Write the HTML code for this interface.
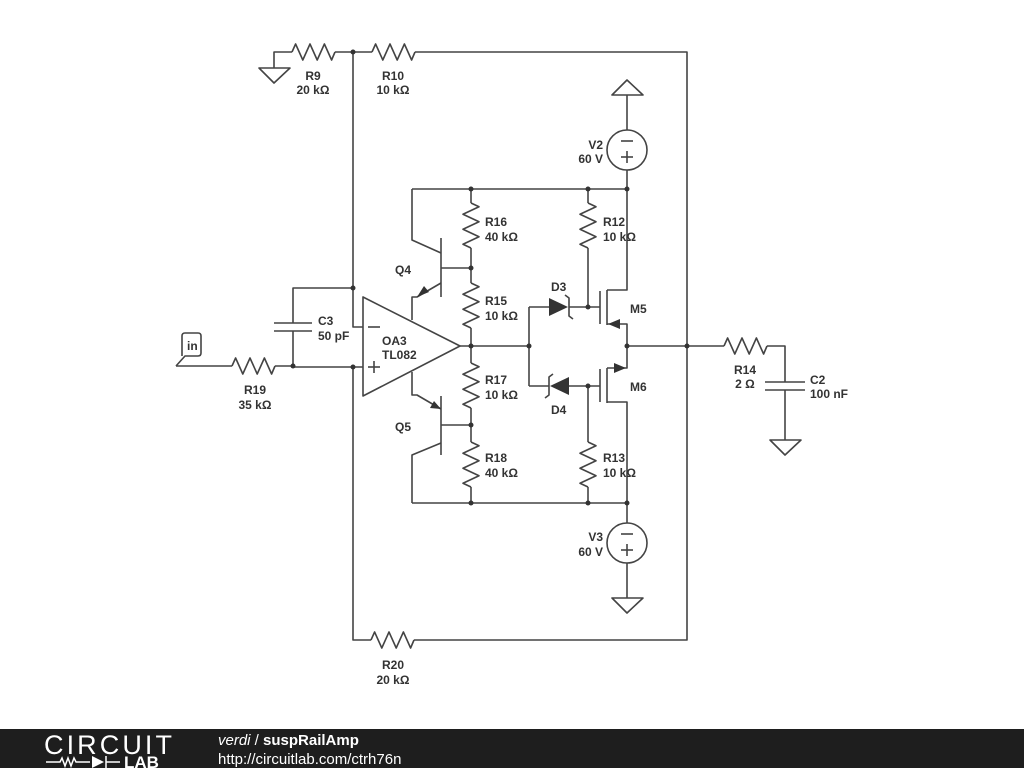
<!DOCTYPE html>
<html><head><meta charset="utf-8"><style>
html,body{margin:0;padding:0;background:#fff;width:1024px;height:768px;overflow:hidden}
svg{display:block}
text{font-family:"Liberation Sans",sans-serif;font-weight:bold;font-size:12px;fill:#333}
</style></head><body>
<svg width="1024" height="768" viewBox="0 0 1024 768">
<defs>
<path id="rv" d="M0,0 L8,3.75 L-8,11.25 L8,18.75 L-8,26.25 L8,33.75 L-8,41.25 L0,45" fill="none"/>
<path id="rh" d="M0,0 L3.6,-8 L10.8,8 L18,-8 L25.2,8 L32.4,-8 L39.6,8 L43,0" fill="none"/>
</defs>
<g fill="none" stroke="#444" stroke-width="1.6" stroke-linejoin="round">
<polyline points="274,68 274,52 292,52"/>
<polygon points="259,68 290,68 274,83"/>
<use href="#rh" x="292" y="52"/>
<line x1="335" y1="52" x2="372" y2="52"/>
<use href="#rh" x="372" y="52"/>
<polyline points="415,52 687,52 687,640 414,640"/>
<use href="#rh" x="371" y="640"/>
<polyline points="371,640 353,640 353,367 363,367"/>
<polyline points="353,52 353,327 363,327"/>
<polyline points="353,288 293,288 293,323"/>
<line x1="274" y1="323" x2="312" y2="323"/>
<line x1="274" y1="331" x2="312" y2="331"/>
<polyline points="293,331 293,367 353,367"/>
<polyline points="176,366 232,366"/>
<use href="#rh" x="232" y="366"/>
<line x1="275" y1="366" x2="293" y2="366"/>
<path d="M176,366 L185,356 L198,356 Q201,356 201,353 L201,336 Q201,333 198,333 L185,333 Q182,333 182,336 L182,356"/>
<polygon points="363,297 363,396 460,346"/>
<line x1="368" y1="327" x2="380" y2="327"/>
<line x1="368" y1="367" x2="380" y2="367"/>
<line x1="374" y1="361" x2="374" y2="373"/>
<line x1="460" y1="346" x2="529" y2="346"/>
<polyline points="412,189 627,189"/>
<polyline points="412,189 412,240 441,253"/>
<line x1="441" y1="238" x2="441" y2="297"/>
<line x1="441" y1="268" x2="471" y2="268"/>
<polyline points="441,283 417,297 412,297 412,320"/>
<polyline points="412,503 627,503"/>
<polyline points="412,503 412,455 441,443"/>
<line x1="441" y1="396" x2="441" y2="455"/>
<line x1="441" y1="425" x2="471" y2="425"/>
<polyline points="412,372 412,395 417,395 441,409"/>
<line x1="471" y1="189" x2="471" y2="203"/>
<use href="#rv" x="471" y="203"/>
<line x1="471" y1="248" x2="471" y2="283"/>
<use href="#rv" x="471" y="283"/>
<line x1="471" y1="328" x2="471" y2="363"/>
<use href="#rv" x="471" y="363"/>
<line x1="471" y1="408" x2="471" y2="442"/>
<use href="#rv" x="471" y="442"/>
<line x1="471" y1="487" x2="471" y2="503"/>
<line x1="588" y1="189" x2="588" y2="203"/>
<use href="#rv" x="588" y="203"/>
<line x1="588" y1="248" x2="588" y2="307"/>
<line x1="588" y1="386" x2="588" y2="442"/>
<use href="#rv" x="588" y="442"/>
<line x1="588" y1="487" x2="588" y2="503"/>
<polyline points="529,307 529,386"/>
<line x1="529" y1="307" x2="549" y2="307"/>
<line x1="569" y1="307" x2="600" y2="307"/>
<polyline points="565,295 569,298 569,316 573,319"/>
<line x1="529" y1="386" x2="549" y2="386"/>
<line x1="569" y1="386" x2="600" y2="386"/>
<polyline points="553,374 549,377 549,395 545,398"/>
<line x1="600" y1="291" x2="600" y2="324"/>
<line x1="607" y1="290" x2="607" y2="325"/>
<polyline points="607,290 627,290 627,189"/>
<polyline points="607,324 627,324 627,346"/>
<line x1="600" y1="369" x2="600" y2="402"/>
<line x1="607" y1="368" x2="607" y2="403"/>
<polyline points="607,368 627,368 627,346"/>
<polyline points="607,402 627,402 627,503"/>
<line x1="627" y1="346" x2="724" y2="346"/>
<polygon points="612,95 643,95 627,80"/>
<line x1="627" y1="95" x2="627" y2="130"/>
<circle cx="627" cy="150" r="20"/>
<line x1="621" y1="141" x2="633" y2="141"/>
<line x1="621" y1="157" x2="633" y2="157"/><line x1="627" y1="151" x2="627" y2="163"/>
<line x1="627" y1="170" x2="627" y2="189"/>
<line x1="627" y1="503" x2="627" y2="523"/>
<circle cx="627" cy="543" r="20"/>
<line x1="621" y1="534" x2="633" y2="534"/>
<line x1="621" y1="550" x2="633" y2="550"/><line x1="627" y1="544" x2="627" y2="556"/>
<line x1="627" y1="563" x2="627" y2="598"/>
<polygon points="612,598 643,598 627,613"/>
<use href="#rh" x="724" y="346"/>
<polyline points="767,346 785,346 785,382"/>
<line x1="765" y1="382" x2="805" y2="382"/>
<line x1="765" y1="390" x2="805" y2="390"/>
<line x1="785" y1="390" x2="785" y2="440"/>
<polygon points="770,440 801,440 785,455"/>
</g>
<g fill="#333" stroke="none">
<polygon points="417,297 424,286 429,292"/>
<polygon points="441,409 430,408 434,401"/>
<polygon points="549,298 549,316 568,307"/>
<polygon points="569,377 569,395 550,386"/>
<polygon points="608,324 620,319 620,329"/>
<polygon points="626,368 614,363 614,373"/>
<circle cx="353" cy="52" r="2.5"/><circle cx="353" cy="288" r="2.5"/><circle cx="353" cy="367" r="2.5"/>
<circle cx="293" cy="366" r="2.5"/><circle cx="471" cy="189" r="2.5"/><circle cx="588" cy="189" r="2.5"/>
<circle cx="627" cy="189" r="2.5"/><circle cx="471" cy="268" r="2.5"/><circle cx="471" cy="346" r="2.5"/>
<circle cx="529" cy="346" r="2.5"/><circle cx="471" cy="425" r="2.5"/><circle cx="471" cy="503" r="2.5"/>
<circle cx="588" cy="503" r="2.5"/><circle cx="627" cy="503" r="2.5"/><circle cx="588" cy="307" r="2.5"/>
<circle cx="588" cy="386" r="2.5"/><circle cx="627" cy="346" r="2.5"/><circle cx="687" cy="346" r="2.5"/>
</g>
<text x="187" y="350">in</text>
<text x="313" y="80" text-anchor="middle">R9</text><text x="313" y="94" text-anchor="middle">20 kΩ</text>
<text x="393" y="80" text-anchor="middle">R10</text><text x="393" y="94" text-anchor="middle">10 kΩ</text>
<text x="318" y="325">C3</text><text x="318" y="340">50 pF</text>
<text x="255" y="394" text-anchor="middle">R19</text><text x="255" y="409" text-anchor="middle">35 kΩ</text>
<text x="382" y="345">OA3</text><text x="382" y="359">TL082</text>
<text x="395" y="274">Q4</text><text x="395" y="431">Q5</text>
<text x="485" y="226">R16</text><text x="485" y="241">40 kΩ</text>
<text x="485" y="305">R15</text><text x="485" y="320">10 kΩ</text>
<text x="485" y="384">R17</text><text x="485" y="399">10 kΩ</text>
<text x="485" y="462">R18</text><text x="485" y="477">40 kΩ</text>
<text x="603" y="226">R12</text><text x="603" y="241">10 kΩ</text>
<text x="603" y="462">R13</text><text x="603" y="477">10 kΩ</text>
<text x="551" y="291">D3</text><text x="551" y="414">D4</text>
<text x="630" y="313">M5</text><text x="630" y="391">M6</text>
<text x="603" y="149" text-anchor="end">V2</text><text x="603" y="163" text-anchor="end">60 V</text>
<text x="603" y="541" text-anchor="end">V3</text><text x="603" y="556" text-anchor="end">60 V</text>
<text x="745" y="374" text-anchor="middle">R14</text><text x="745" y="388" text-anchor="middle">2 Ω</text>
<text x="810" y="384">C2</text><text x="810" y="398">100 nF</text>
<text x="393" y="669" text-anchor="middle">R20</text><text x="393" y="684" text-anchor="middle">20 kΩ</text>
<rect x="0" y="729" width="1024" height="39" fill="#1e1e1e"/>
<text x="44" y="754" style="font-weight:normal;font-size:27px;fill:#fff;letter-spacing:0px" textLength="128">CIRCUIT</text>
<g stroke="#fff" stroke-width="1.5" fill="none">
<polyline points="46,762 60,762 62,758 65,766 68,758 71,766 74,758 76,762 90,762"/>
<line x1="106" y1="756" x2="106" y2="768"/><line x1="106" y1="762" x2="120" y2="762"/>
</g>
<polygon points="92,756 92,768 104,762" fill="#fff"/>
<text x="124" y="768" style="font-size:17px;fill:#fff;font-weight:bold">LAB</text>
<text x="218" y="745" style="font-size:15px;fill:#fff;font-weight:normal"><tspan font-style="italic">verdi</tspan> / <tspan font-weight="bold">suspRailAmp</tspan></text>
<text x="218" y="764" style="font-size:15px;fill:#fff;font-weight:normal">http://circuitlab.com/ctrh76n</text>
</svg>
</body></html>
